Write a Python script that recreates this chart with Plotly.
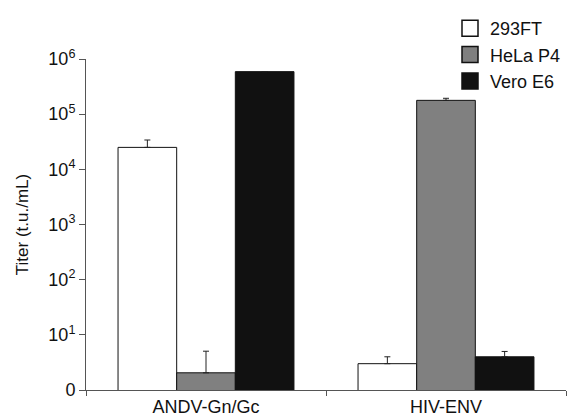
import plotly.graph_objects as go

categories = ["ANDV-Gn/Gc", "HIV-ENV"]
series_names = ["293FT", "HeLa P4", "Vero E6"]
values_293ft = [2.5e4, 3.0]
values_hela = [2.05, 1.78e5]
values_vero = [5.9e5, 4.0]
err_293ft = [0.9e4, 1.0]
err_hela = [3.0, 1.6e4]
err_vero = [0.0, 1.0]
colors = ["#ffffff", "#808080", "#111111"]
tick_vals = [1, 10, 100, 1000, 1e4, 1e5, 1e6]
tick_text = ["0", "10<sup>1</sup>", "10<sup>2</sup>", "10<sup>3</sup>",
             "10<sup>4</sup>", "10<sup>5</sup>", "10<sup>6</sup>"]

fig = go.Figure()
for name, vals, errs, col in zip(series_names,
                                 [values_293ft, values_hela, values_vero],
                                 [err_293ft, err_hela, err_vero], colors):
    fig.add_trace(go.Bar(
        x=categories, y=vals, name=name, showlegend=False,
        marker=dict(color=col, line=dict(color="#111111", width=1)),
        error_y=dict(type="data", array=errs, arrayminus=[0, 0], symmetric=False,
                     color="#222222", thickness=1, width=3),
    ))
# legend entries with larger square swatches
for name, col in zip(series_names, colors):
    fig.add_trace(go.Scatter(
        x=[None], y=[None], mode="markers", name=name,
        marker=dict(symbol="square", size=19, color=col,
                    line=dict(color="#111111", width=1.5)),
    ))

fig.update_layout(
    template="simple_white",
    width=576, height=419,
    margin=dict(l=86, r=10, t=56, b=29),
    paper_bgcolor="white", plot_bgcolor="white",
    barmode="group", bargap=0.267, bargroupgap=0,
    font=dict(family="Liberation Sans, Arial, sans-serif", color="#111111", size=17),
    showlegend=True,
    legend=dict(x=1.0, y=1.148, xanchor="right", yanchor="top",
                font=dict(size=18, color="#111111"), bgcolor="rgba(0,0,0,0)",
                itemsizing="trace", tracegroupgap=0, itemwidth=30),
    xaxis=dict(showline=True, linecolor="#555555", linewidth=1, automargin=False,
               ticks="outside", tickson="boundaries", ticklen=5, tickcolor="#555555",
               range=[-0.5, 1.5], tickfont=dict(size=18, color="#111111"),
               showgrid=False, mirror=False),
    yaxis=dict(type="log", range=[0, 6], showline=True, linecolor="#555555", linewidth=1,
               automargin=False,
               ticks="outside", ticklen=6, tickcolor="#555555",
               tickvals=tick_vals, ticktext=tick_text,
               tickfont=dict(size=18, color="#111111"),
               showgrid=False, zeroline=False, mirror=False,
               title=dict(text="Titer (t.u./mL)", font=dict(size=17, color="#111111"))),
)

fig.write_html("out.html", config={"displayModeBar": False},
               post_script="document.body.style.margin='0';")
